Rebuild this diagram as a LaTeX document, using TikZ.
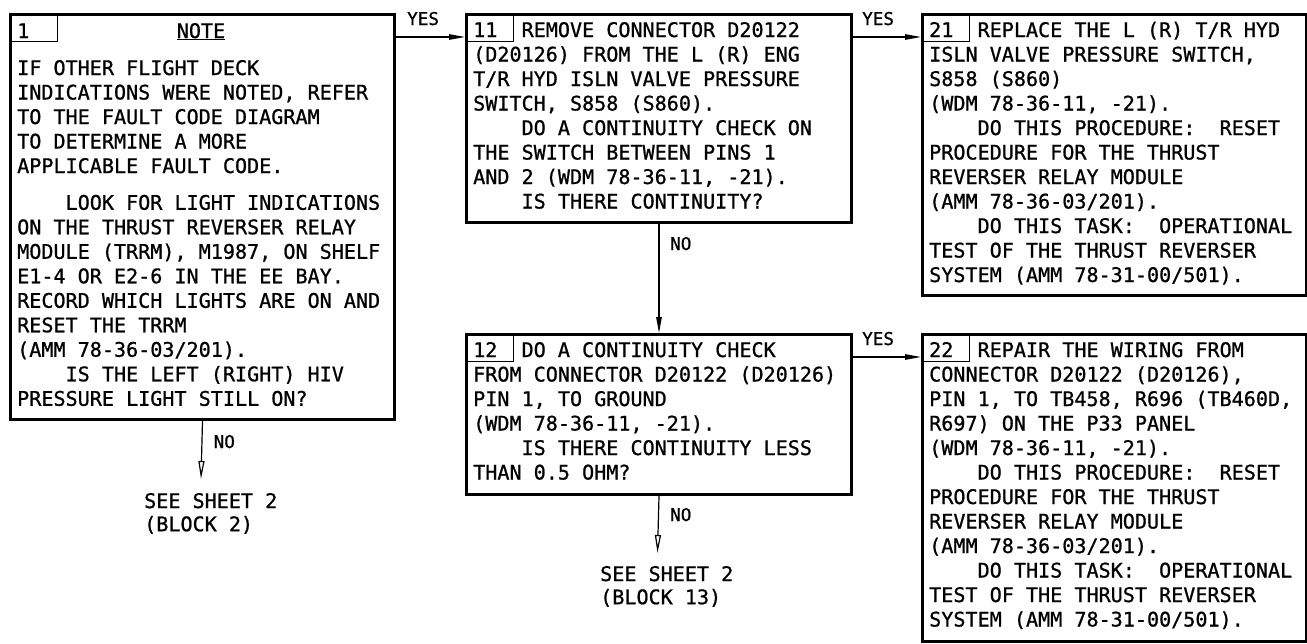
\documentclass[tikz,border=0pt]{standalone}
\usepackage{fontspec}
\newfontfamily\monof[FakeBold=0.9]{DejaVu Sans Mono}
\usetikzlibrary{arrows.meta}
\newcommand\ind{\hspace*{2.408em}}
\newcommand\bodytext[1]{\parbox[t]{420pt}{\raggedright\frenchspacing #1}}
\tikzset{
  blockbox/.style={draw, line width=3pt, rectangle, anchor=north west, inner sep=0pt},
  numbox/.style={draw, line width=1.2pt, rectangle, anchor=north west, inner sep=0pt,
                 minimum width=48pt, minimum height=28pt},
  txt/.style={anchor=base west, inner sep=0pt, font=\monof\fontsize{20.1}{24.5}\selectfont},
  exittxt/.style={anchor=base west, inner sep=0pt, font=\monof\fontsize{20.1}{23.2}\selectfont},
  lbl/.style={anchor=base west, inner sep=0pt, font=\monof\fontsize{17.6}{20}\selectfont},
  flow/.style={line width=1.2pt, -{Triangle[length=16pt,width=5.5pt]}},
  exitflow/.style={line width=1.2pt, -{Triangle[open,length=18pt,width=6pt]}}
}
\begin{document}
\begin{tikzpicture}[x=1pt,y=-1pt]
\fill[white] (0,0) rectangle (1307,643);
\useasboundingbox (0,0) rectangle (1307,643);

% blocks
\node[blockbox, minimum width=384pt, minimum height=405pt] (b1) at (9,13) {};
\node[blockbox, minimum width=385pt, minimum height=208pt] (b11) at (465,13) {};
\node[blockbox, minimum width=385pt, minimum height=160pt] (b12) at (465,333) {};
\node[blockbox, minimum width=384pt, minimum height=281pt] (b21) at (921,13) {};
\node[blockbox, minimum width=384pt, minimum height=307pt] (b22) at (921,333) {};

% number boxes
\node[numbox] (n1) at (b1.north west) {};
\node[numbox] (n11) at (b11.north west) {};
\node[numbox] (n12) at (b12.north west) {};
\node[numbox] (n21) at (b21.north west) {};
\node[numbox] (n22) at (b22.north west) {};

% block 1
\node[txt] (t1n) at (17,38) {1};
\node[txt, anchor=base] (t1h) at (201,38) {\underline{NOTE}};
\node[txt] (t1) at (17,75) {\bodytext{IF OTHER FLIGHT DECK\\
INDICATIONS WERE NOTED, REFER\\
TO THE FAULT CODE DIAGRAM\\
TO DETERMINE A MORE\\
APPLICABLE FAULT CODE.\\[12.25pt]
\ind LOOK FOR LIGHT INDICATIONS\\
ON THE THRUST REVERSER RELAY\\
MODULE (TRRM), M1987, ON SHELF\\
E1-4 OR E2-6 IN THE EE BAY.\\
RECORD WHICH LIGHTS ARE ON AND\\
RESET THE TRRM\\
(AMM 78-36-03/201).\\
\ind IS THE LEFT (RIGHT) HIV\\
PRESSURE LIGHT STILL ON?}};

% block 11
\node[txt] (t11) at (473,37) {\bodytext{11\ \ REMOVE CONNECTOR D20122\\
(D20126) FROM THE L (R) ENG\\
T/R HYD ISLN VALVE PRESSURE\\
SWITCH, S858 (S860).\\
\ind DO A CONTINUITY CHECK ON\\
THE SWITCH BETWEEN PINS 1\\
AND 2 (WDM 78-36-11, -21).\\
\ind IS THERE CONTINUITY?}};

% block 12
\node[txt] (t12) at (473,357) {\bodytext{12\ \ DO A CONTINUITY CHECK\\
FROM CONNECTOR D20122 (D20126)\\
PIN 1, TO GROUND\\
(WDM 78-36-11, -21).\\
\ind IS THERE CONTINUITY LESS\\
THAN 0.5 OHM?}};

% block 21
\node[txt] (t21) at (929,37) {\bodytext{21\ \ REPLACE THE L (R) T/R HYD\\
ISLN VALVE PRESSURE SWITCH,\\
S858 (S860)\\
(WDM 78-36-11, -21).\\
\ind DO THIS PROCEDURE:\ \ RESET\\
PROCEDURE FOR THE THRUST\\
REVERSER RELAY MODULE\\
(AMM 78-36-03/201).\\
\ind DO THIS TASK:\ \ OPERATIONAL\\
TEST OF THE THRUST REVERSER\\
SYSTEM (AMM 78-31-00/501).}};

% block 22
\node[txt] (t22) at (929,357) {\bodytext{22\ \ REPAIR THE WIRING FROM\\
CONNECTOR D20122 (D20126),\\
PIN 1, TO TB458, R696 (TB460D,\\
R697) ON THE P33 PANEL\\
(WDM 78-36-11, -21).\\
\ind DO THIS PROCEDURE:\ \ RESET\\
PROCEDURE FOR THE THRUST\\
REVERSER RELAY MODULE\\
(AMM 78-36-03/201).\\
\ind DO THIS TASK:\ \ OPERATIONAL\\
TEST OF THE THRUST REVERSER\\
SYSTEM (AMM 78-31-00/501).}};

% exits
\node[exittxt] (x2) at (144,508) {\bodytext{SEE SHEET 2\\ (BLOCK 2)}};
\node[exittxt] (x13) at (600,581) {\bodytext{SEE SHEET 2\\ (BLOCK 13)}};

% connectors
\coordinate (ya) at (0,37);
\coordinate (yb) at (0,357);
\coordinate (e1) at (201,479);
\coordinate (e12) at (657.5,553);
\draw[flow] (b1.east |- ya) -- (b11.west |- ya);
\draw[flow] (b11.east |- ya) -- (b21.west |- ya);
\draw[flow] (b12.east |- yb) -- (b22.west |- yb);
\draw[flow] (b11.south) -- (b12.north);
\draw[exitflow] (b1.south) -- (e1);
\draw[exitflow] (b12.south) -- (e12);

% labels
\node[lbl] (l1) at (407,25) {YES};
\node[lbl] (l2) at (862,25) {YES};
\node[lbl] (l3) at (862,345) {YES};
\node[lbl] (l4) at (213.5,448) {NO};
\node[lbl] (l5) at (670,250) {NO};
\node[lbl] (l6) at (670,521) {NO};
\end{tikzpicture}
\end{document}
